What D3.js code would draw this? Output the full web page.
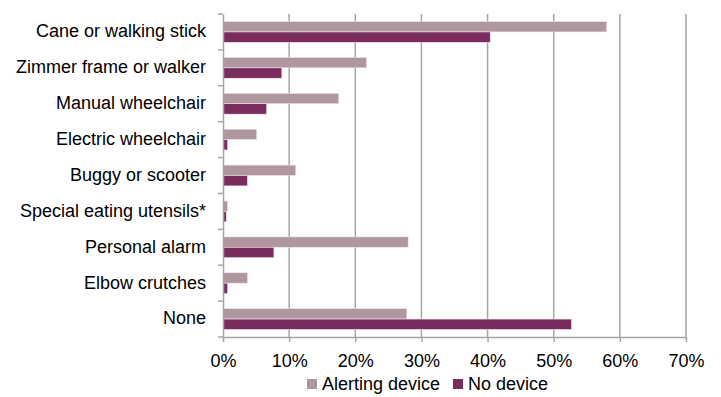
<!DOCTYPE html>
<html><head><meta charset="utf-8">
<script src="https://cdn.jsdelivr.net/npm/d3@7"></script>
<style>body{margin:0;background:#fff}svg{display:block}text{font-family:"Liberation Sans",Arial,sans-serif;fill:#000}</style>
</head><body><svg id="c" width="721" height="397"></svg>
<script>
const categories = ["Cane or walking stick","Zimmer frame or walker","Manual wheelchair","Electric wheelchair","Buggy or scooter","Special eating utensils*","Personal alarm","Elbow crutches","None"];
const seriesNames = ["Alerting device","No device"];
const alerting = [58.0,21.7,17.5,5.1,11.0,0.7,28.0,3.7,27.8];
const noDevice = [40.4,8.9,6.6,0.7,3.7,0.5,7.7,0.7,52.7];
const xTicks = [0,10,20,30,40,50,60,70];
const colors = ["#B0979F","#7B2C5F"];

const FS = 18;
const svg = d3.select("#c");
const m = {l:223, r:686, t:14, b:337};
const x = d3.scaleLinear().domain([0,70]).range([m.l,m.r]);
const y = d3.scaleBand().domain(categories).range([m.t,m.b]).paddingInner(0.42).paddingOuter(0.21);
const ys = d3.scaleBand().domain(seriesNames).range([0,y.bandwidth()]);
const yOuter = d3.scaleBand().domain(categories).range([m.t,m.b]);

// gridlines
svg.append("g").selectAll("line").data(xTicks.slice(1)).join("line")
  .attr("x1",d=>x(d)).attr("x2",d=>x(d)).attr("y1",m.t).attr("y2",m.b)
  .attr("stroke","#A6A6A6").attr("stroke-width",1.5);

// bars
const series = [alerting, noDevice];
series.forEach((vals,si)=>{
  svg.append("g").selectAll("rect").data(categories).join("rect")
    .attr("x",x(0)).attr("y",(d)=>y(d)+ys(seriesNames[si]))
    .attr("width",(d,i)=>x(vals[i])-x(0)).attr("height",ys.bandwidth())
    .attr("fill",colors[si]).attr("stroke","#F2E6EC").attr("stroke-width",0.6);
});

// x axis
const xa = svg.append("g").attr("transform",`translate(0,${m.b})`)
  .call(d3.axisBottom(x).tickValues(xTicks).tickFormat(d=>d+"%").tickSize(5).tickSizeOuter(0));
xa.select(".domain").attr("stroke","#A6A6A6").attr("stroke-width",1.5);
xa.selectAll(".tick line").attr("stroke","#A6A6A6").attr("stroke-width",1.5);
xa.selectAll(".tick text").attr("font-size",FS).attr("dy",null).attr("y",30).style("font-family","Liberation Sans, Arial, sans-serif");

// y axis
const ya = svg.append("g").attr("transform",`translate(${m.l},0)`)
  .call(d3.axisLeft(yOuter).tickSize(0).tickPadding(17));
ya.select(".domain").attr("stroke","#A6A6A6").attr("stroke-width",1.5);
ya.selectAll(".tick text").attr("font-size",FS).style("font-family","Liberation Sans, Arial, sans-serif").attr("dy","0.3em");
// category boundary ticks
const bounds = categories.map(c=>yOuter(c)).concat([m.b]);
svg.append("g").selectAll("line").data(bounds).join("line")
  .attr("x1",m.l-5).attr("x2",m.l).attr("y1",d=>d).attr("y2",d=>d)
  .attr("stroke","#A6A6A6").attr("stroke-width",1.5);

// legend
const leg = svg.append("g");
const legX = [307, 453];
seriesNames.forEach((s,i)=>{
  leg.append("rect").attr("x",legX[i]).attr("y",379).attr("width",10).attr("height",10).attr("fill",colors[i]);
  leg.append("text").attr("x",legX[i]+15).attr("y",390).attr("font-size",FS).text(s);
});
</script></body></html>
